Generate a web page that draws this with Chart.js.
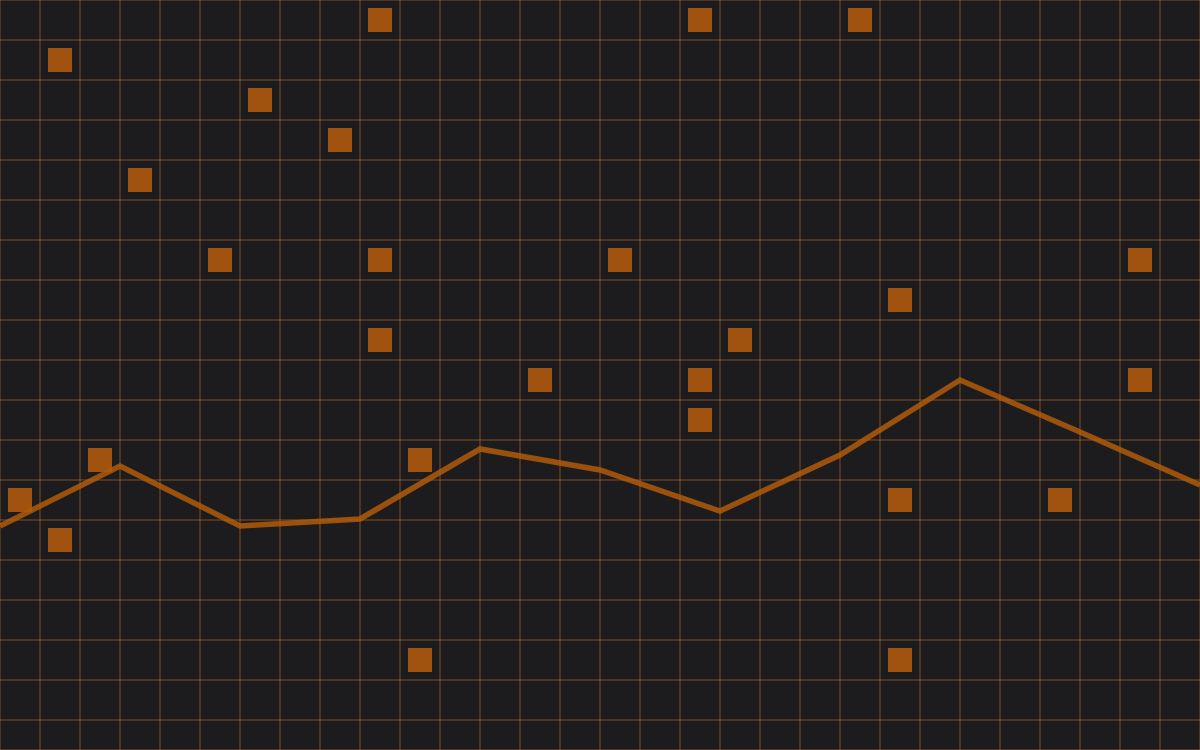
<!DOCTYPE html>
<html>
<head>
  <meta charset="UTF-8">
  <title>Grid chart</title>
  <script src="https://cdn.jsdelivr.net/npm/chart.js"></script>
  <style>
    html, body { margin: 0; padding: 0; background: #1c1c1e; overflow: hidden; }
    canvas { display: block; }
  </style>
</head>
<body>
  <canvas id="chart" width="1200" height="750"></canvas>

  <script>
    // line series
    const lineX = [0, 120, 240, 360, 480, 600, 720, 840, 960, 1080, 1200];
    const lineY = [526, 466, 526, 519, 449, 470, 511, 455, 380, 432, 485];

    // square markers
    const squareX = [20, 60, 60, 100, 140, 220, 260, 340, 380, 380, 380, 420, 420,
                     540, 620, 700, 700, 700, 740, 860, 900, 900, 900, 1060, 1140, 1140];
    const squareY = [500, 60, 540, 460, 180, 260, 100, 140, 20, 260, 340, 460, 660,
                     380, 260, 20, 380, 420, 340, 20, 300, 500, 660, 500, 260, 380];

    const gridColor = 'rgba(200, 110, 40, 0.3)';

    new Chart(document.getElementById('chart'), {
      type: 'scatter',
      data: {
        datasets: [
          {
            type: 'line',
            data: lineX.map((x, i) => ({ x: x, y: lineY[i] })),
            borderColor: 'rgba(175, 90, 10, 0.85)',
            borderWidth: 5.5,
            pointRadius: 0,
            tension: 0,
            fill: false,
            order: 0
          },
          {
            data: squareX.map((x, i) => ({ x: x, y: squareY[i] })),
            pointStyle: 'rect',
            pointRadius: 17,
            pointHoverRadius: 17,
            pointBorderWidth: 0,
            backgroundColor: '#a0520f',
            borderColor: '#a0520f',
            order: 1
          }
        ]
      },
      options: {
        responsive: false,
        devicePixelRatio: 1,
        animation: false,
        layout: { padding: 0, autoPadding: false },
        plugins: { legend: { display: false }, tooltip: { enabled: false } },
        scales: {
          x: {
            type: 'linear', min: 0, max: 1200,
            ticks: { display: false, stepSize: 40 },
            grid: { color: gridColor, lineWidth: 2, drawTicks: false },
            border: { display: false }
          },
          y: {
            type: 'linear', min: 0, max: 750, reverse: true,
            ticks: { display: false, stepSize: 40 },
            grid: { color: gridColor, lineWidth: 2, drawTicks: false },
            border: { display: false }
          }
        }
      }
    });
  </script>
</body>
</html>
